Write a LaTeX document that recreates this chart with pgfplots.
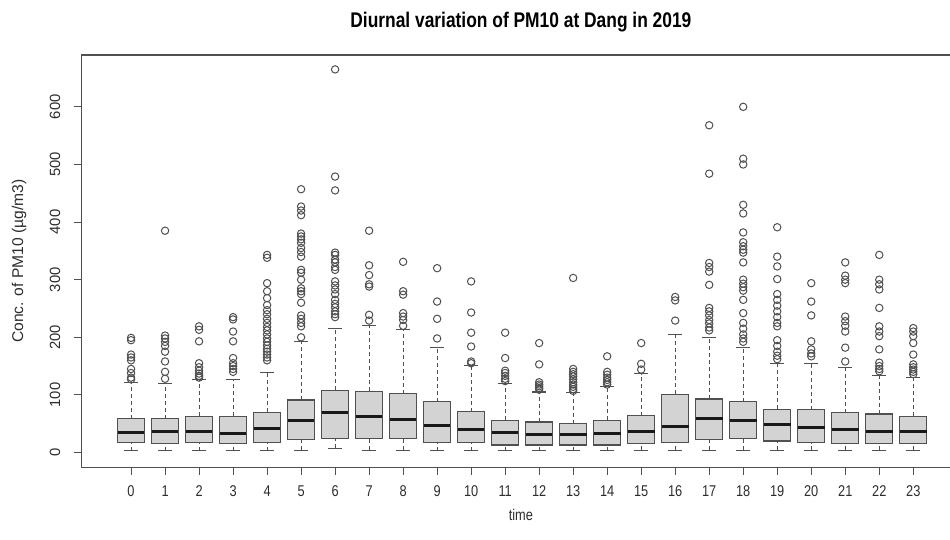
\documentclass[border=0pt]{standalone}
\usepackage{fontspec}
\setmainfont{Liberation Sans}[FakeStretch=0.82]
\newfontfamily\vfont{Liberation Sans}
\usepackage{pgfplots}
\usepgfplotslibrary{statistics}
\pgfplotsset{compat=1.18}

\definecolor{boxgray}{RGB}{211,211,211}
\definecolor{ink}{RGB}{45,45,45}
\definecolor{frame}{RGB}{80,80,80}

% R-style boxes: grey fill, thick median, dashed whisker with solid staple
\pgfplotsset{
  boxplot/draw/box/.code={
    \draw[draw=frame, fill=boxgray, line width=0.6pt]
      (boxplot box cs:\pgfplotsboxplotvalue{lower quartile},0) rectangle
      (boxplot box cs:\pgfplotsboxplotvalue{upper quartile},1);
  },
  boxplot/draw/median/.code={
    \draw[black!90, line width=1.5pt]
      (boxplot box cs:\pgfplotsboxplotvalue{median},0.01) --
      (boxplot box cs:\pgfplotsboxplotvalue{median},0.99);
  },
  boxplot/draw/lower whisker/.code={
    \draw[frame, line width=0.55pt, dash pattern=on 2pt off 1.5pt]
      (boxplot box cs:\pgfplotsboxplotvalue{lower whisker},0.5) --
      (boxplot box cs:\pgfplotsboxplotvalue{lower quartile},0.5);
    \draw[frame, line width=0.55pt]
      (boxplot whisker cs:\pgfplotsboxplotvalue{lower whisker},0) --
      (boxplot whisker cs:\pgfplotsboxplotvalue{lower whisker},1);
  },
  boxplot/draw/upper whisker/.code={
    \draw[frame, line width=0.55pt, dash pattern=on 2pt off 1.5pt]
      (boxplot box cs:\pgfplotsboxplotvalue{upper quartile},0.5) --
      (boxplot box cs:\pgfplotsboxplotvalue{upper whisker},0.5);
    \draw[frame, line width=0.55pt]
      (boxplot whisker cs:\pgfplotsboxplotvalue{upper whisker},0) --
      (boxplot whisker cs:\pgfplotsboxplotvalue{upper whisker},1);
  },
  rbox/.style={
    draw=frame, solid, line width=0.5pt,
    mark=o, mark size=1.85pt,
    mark options={draw=frame, fill=none, line width=0.5pt, solid},
    boxplot/draw direction=y,
    boxplot/box extend=0.8,
    boxplot/whisker extend=0.4,
  },
}

\begin{document}
\begin{tikzpicture}
\path[use as bounding box] (0,0) rectangle (475pt,270pt);
\begin{axis}[
  at={(40.7pt,36.25pt)}, anchor=south west,
  scale only axis, width=434.3pt, height=206.25pt,
  xmin=-1.46, xmax=24.08,
  ymin=-26, ymax=690,
  axis x line=box, axis y line=left,
  axis line style={frame, line width=0.55pt, -},
  tick pos=left, tick align=outside,
  major tick length=3.7pt,
  tick style={frame, line width=0.5pt},
  xtick={0,...,23},
  ytick={0,100,...,600},
  /pgf/number format/assume math mode=true,
  ticklabel style={font=\fontsize{7.8}{9}\selectfont, text=ink},
  xticklabel style={anchor=center, yshift=-8.3pt},
  yticklabel style={anchor=center, xshift=-9.5pt, rotate=90,
    font=\vfont\fontsize{7.4}{9}\selectfont},
  title={Diurnal variation of PM10 at Dang in 2019},
  title style={at={(axis description cs:0.506,1.05)}, anchor=center,
    font=\fontsize{10.6}{13}\selectfont\bfseries, text=black},
  xlabel={time},
  xlabel style={at={(axis description cs:0.506,-0.114)}, anchor=center,
    font=\fontsize{7.8}{9}\selectfont, text=ink},
  ylabel={Conc. of PM10 (µg/m3)},
  ylabel style={at={(axis description cs:-0.0718,0.5)}, anchor=center,
    font=\vfont\fontsize{7.8}{9}\selectfont, text=ink},
  clip=false,
]
\addplot[rbox, boxplot prepared={draw position=0, lower whisker=3, lower quartile=17, median=35, upper quartile=59, upper whisker=122}]
  table[row sep=\\, y index=0] {y\\ 199\\ 195\\ 170\\ 165\\ 160\\ 145\\ 138\\ 130\\ 127\\};
\addplot[rbox, boxplot prepared={draw position=1, lower whisker=3, lower quartile=16, median=36, upper quartile=59, upper whisker=120}]
  table[row sep=\\, y index=0] {y\\ 385\\ 203\\ 198\\ 192\\ 185\\ 175\\ 158\\ 140\\ 128\\};
\addplot[rbox, boxplot prepared={draw position=2, lower whisker=3, lower quartile=17, median=36, upper quartile=63, upper whisker=126}]
  table[row sep=\\, y index=0] {y\\ 219\\ 213\\ 193\\ 155\\ 148\\ 142\\ 137\\ 133\\ 130\\};
\addplot[rbox, boxplot prepared={draw position=3, lower whisker=3, lower quartile=16, median=33, upper quartile=63, upper whisker=126}]
  table[row sep=\\, y index=0] {y\\ 235\\ 231\\ 210\\ 193\\ 164\\ 155\\ 150\\ 145\\ 140\\};
\addplot[rbox, boxplot prepared={draw position=4, lower whisker=3, lower quartile=18, median=42, upper quartile=70, upper whisker=139}]
  table[row sep=\\, y index=0] {y\\ 343\\ 338\\ 294\\ 280\\ 268\\ 256\\ 247\\ 240\\ 232\\ 225\\ 218\\ 212\\ 205\\ 198\\ 192\\ 186\\ 180\\ 175\\ 170\\ 165\\ 160\\};
\addplot[rbox, boxplot prepared={draw position=5, lower whisker=4, lower quartile=23, median=56, upper quartile=91, upper whisker=193}]
  table[row sep=\\, y index=0] {y\\ 457\\ 427\\ 420\\ 412\\ 380\\ 375\\ 370\\ 364\\ 355\\ 348\\ 340\\ 317\\ 312\\ 300\\ 285\\ 280\\ 275\\ 260\\ 238\\ 232\\ 225\\ 219\\ 200\\};
\addplot[rbox, boxplot prepared={draw position=6, lower whisker=7, lower quartile=24, median=70, upper quartile=108, upper whisker=216}]
  table[row sep=\\, y index=0] {y\\ 665\\ 479\\ 455\\ 347\\ 343\\ 335\\ 330\\ 322\\ 317\\ 297\\ 290\\ 283\\ 275\\ 265\\ 258\\ 252\\ 245\\ 240\\ 235\\};
\addplot[rbox, boxplot prepared={draw position=7, lower whisker=4, lower quartile=24, median=62, upper quartile=106, upper whisker=220}]
  table[row sep=\\, y index=0] {y\\ 385\\ 325\\ 308\\ 292\\ 288\\ 239\\ 229\\};
\addplot[rbox, boxplot prepared={draw position=8, lower whisker=4, lower quartile=24, median=58, upper quartile=102, upper whisker=213}]
  table[row sep=\\, y index=0] {y\\ 331\\ 280\\ 274\\ 242\\ 236\\ 230\\ 220\\};
\addplot[rbox, boxplot prepared={draw position=9, lower whisker=3, lower quartile=17, median=47, upper quartile=88, upper whisker=182}]
  table[row sep=\\, y index=0] {y\\ 320\\ 262\\ 232\\ 198\\};
\addplot[rbox, boxplot prepared={draw position=10, lower whisker=3, lower quartile=17, median=40, upper quartile=71, upper whisker=151}]
  table[row sep=\\, y index=0] {y\\ 297\\ 243\\ 208\\ 184\\ 158\\ 155\\};
\addplot[rbox, boxplot prepared={draw position=11, lower whisker=3, lower quartile=13, median=35, upper quartile=56, upper whisker=120}]
  table[row sep=\\, y index=0] {y\\ 208\\ 164\\ 142\\ 138\\ 133\\ 128\\ 124\\};
\addplot[rbox, boxplot prepared={draw position=12, lower whisker=3, lower quartile=13, median=32, upper quartile=53, upper whisker=105}]
  table[row sep=\\, y index=0] {y\\ 190\\ 153\\ 122\\ 118\\ 115\\ 112\\ 109\\};
\addplot[rbox, boxplot prepared={draw position=13, lower whisker=3, lower quartile=13, median=32, upper quartile=50, upper whisker=104}]
  table[row sep=\\, y index=0] {y\\ 303\\ 145\\ 140\\ 136\\ 132\\ 127\\ 122\\ 118\\ 114\\ 110\\ 107\\};
\addplot[rbox, boxplot prepared={draw position=14, lower whisker=3, lower quartile=13, median=33, upper quartile=56, upper whisker=115}]
  table[row sep=\\, y index=0] {y\\ 167\\ 140\\ 135\\ 130\\ 126\\ 122\\ 118\\};
\addplot[rbox, boxplot prepared={draw position=15, lower whisker=4, lower quartile=16, median=36, upper quartile=64, upper whisker=137}]
  table[row sep=\\, y index=0] {y\\ 190\\ 154\\ 144\\};
\addplot[rbox, boxplot prepared={draw position=16, lower whisker=4, lower quartile=18, median=46, upper quartile=101, upper whisker=205}]
  table[row sep=\\, y index=0] {y\\ 270\\ 264\\ 229\\};
\addplot[rbox, boxplot prepared={draw position=17, lower whisker=4, lower quartile=22, median=59, upper quartile=93, upper whisker=199}]
  table[row sep=\\, y index=0] {y\\ 568\\ 484\\ 329\\ 322\\ 314\\ 291\\ 251\\ 245\\ 238\\ 230\\ 224\\ 217\\ 212\\};
\addplot[rbox, boxplot prepared={draw position=18, lower whisker=4, lower quartile=24, median=56, upper quartile=88, upper whisker=182}]
  table[row sep=\\, y index=0] {y\\ 600\\ 510\\ 500\\ 430\\ 415\\ 382\\ 365\\ 358\\ 352\\ 347\\ 330\\ 300\\ 293\\ 287\\ 281\\ 265\\ 242\\ 225\\ 215\\ 205\\ 198\\ 192\\};
\addplot[rbox, boxplot prepared={draw position=19, lower whisker=4, lower quartile=20, median=49, upper quartile=75, upper whisker=154}]
  table[row sep=\\, y index=0] {y\\ 391\\ 340\\ 323\\ 301\\ 275\\ 265\\ 255\\ 245\\ 235\\ 225\\ 219\\ 195\\ 185\\ 175\\ 168\\ 162\\};
\addplot[rbox, boxplot prepared={draw position=20, lower whisker=4, lower quartile=17, median=43, upper quartile=74, upper whisker=154}]
  table[row sep=\\, y index=0] {y\\ 294\\ 262\\ 238\\ 193\\ 179\\ 172\\ 167\\};
\addplot[rbox, boxplot prepared={draw position=21, lower whisker=4, lower quartile=16, median=40, upper quartile=69, upper whisker=147}]
  table[row sep=\\, y index=0] {y\\ 330\\ 307\\ 300\\ 294\\ 236\\ 228\\ 220\\ 210\\ 182\\ 158\\};
\addplot[rbox, boxplot prepared={draw position=22, lower whisker=4, lower quartile=16, median=36, upper quartile=67, upper whisker=133}]
  table[row sep=\\, y index=0] {y\\ 343\\ 300\\ 292\\ 283\\ 251\\ 219\\ 210\\ 202\\ 179\\ 156\\ 150\\ 145\\ 141\\};
\addplot[rbox, boxplot prepared={draw position=23, lower whisker=4, lower quartile=16, median=36, upper quartile=63, upper whisker=130}]
  table[row sep=\\, y index=0] {y\\ 216\\ 210\\ 202\\ 190\\ 170\\ 153\\ 148\\ 144\\ 140\\ 136\\};
\end{axis}
\end{tikzpicture}
\end{document}
